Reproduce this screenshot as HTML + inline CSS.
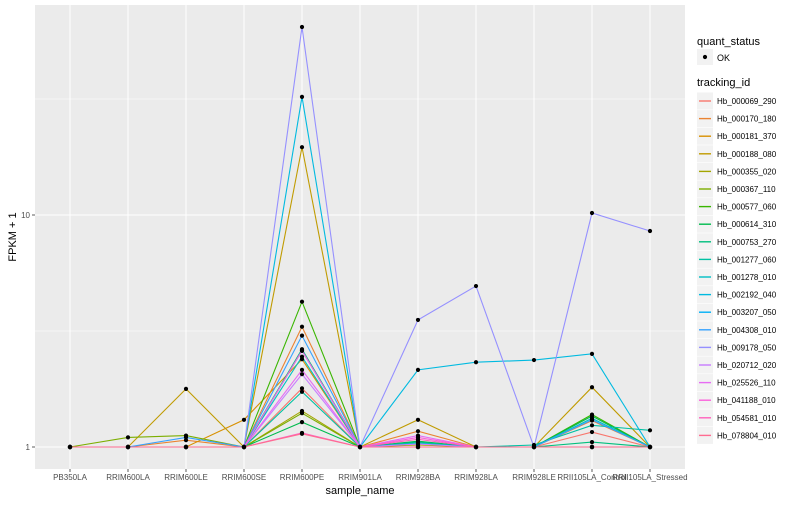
<!DOCTYPE html>
<html><head><meta charset="utf-8"><style>
body{margin:0;background:#fff;font-family:"Liberation Sans",sans-serif}
svg text{font-family:"Liberation Sans",sans-serif}
</style></head><body>
<svg id="c" width="800" height="500" xmlns="http://www.w3.org/2000/svg"></svg>
<script>
const categories=["PB350LA","RRIM600LA","RRIM600LE","RRIM600SE","RRIM600PE","RRIM901LA","RRIM928BA","RRIM928LA","RRIM928LE","RRII105LA_Control","RRII105LA_Stressed"];
const seriesNames=["Hb_000069_290","Hb_000170_180","Hb_000181_370","Hb_000188_080","Hb_000355_020","Hb_000367_110","Hb_000577_060","Hb_000614_310","Hb_000753_270","Hb_001277_060","Hb_001278_010","Hb_002192_040","Hb_003207_050","Hb_004308_010","Hb_009178_050","Hb_020712_020","Hb_025526_110","Hb_041188_010","Hb_054581_010","Hb_078804_010"];
const colors=["#F8766D","#EA8331","#D89000","#C09B00","#A3A500","#7CAE00","#39B600","#00BB4E","#00BF7D","#00C1A3","#00BFC4","#00BAE0","#00B0F6","#35A2FF","#9590FF","#C77CFF","#E76BF3","#FA62DB","#FF62BC","#FF6C91"];
const s01=[1,1,1,1,1.79,1,1,1,1,1.16,1];
const s02=[1,1,1.07,1,3.30,1,1.17,1,1,1.30,1];
const s03=[1,1,1,1.31,2.39,1,1,1,1,1,1];
const s04=[1,1,1.78,1,19.6,1,1.31,1,1,1.81,1];
const s05=[1,1,1,1,1.43,1,1.02,1,1,1,1];
const s06=[1,1.1,1.12,1,1.40,1,1,1,1,1,1];
const s07=[1,1,1,1,4.23,1,1,1,1,1.38,1];
const s08=[1,1,1,1,1.28,1,1.06,1,1,1.36,1];
const s09=[1,1,1,1,2.64,1,1.05,1,1,1.05,1];
const s10=[1,1,1,1,1.73,1,1,1,1.02,1.24,1.18];
const s11=[1,1,1,1,2.45,1,1.04,1,1,1.33,1];
const s12=[1,1,1,1,32.3,1,2.15,2.32,2.37,2.52,1];
const s13=[1,1,1,1,2.60,1,1,1,1,1,1];
const s14=[1,1,1.1,1,3.02,1,1,1,1,1.31,1];
const s15=[1,1,1,1,64.6,1,3.53,4.94,1,10.2,8.53];
const s16=[1,1,1,1,2.06,1,1.03,1,1,1,1];
const s17=[1,1,1,1,2.15,1,1.12,1,1,1,1];
const s18=[1,1,1,1,2.60,1,1.10,1,1,1,1];
const s19=[1,1,1,1,1.15,1,1.08,1,1,1,1];
const s20=[1,1,1,1,1.14,1,1,1,1,1,1];
const series=[s01,s02,s03,s04,s05,s06,s07,s08,s09,s10,s11,s12,s13,s14,s15,s16,s17,s18,s19,s20];
const yTicks=[1,10];
const yTickLabels=["1","10"];

const NS="http://www.w3.org/2000/svg";
const svg=document.getElementById('c');
const PL=35,PR=685,PT=5,PB=469;
const x=i=>70+i*58;
const y=v=>447-Math.log10(v)*232;
function el(t,a,p){const e=document.createElementNS(NS,t);for(const k in a)e.setAttribute(k,a[k]);(p||svg).appendChild(e);return e;}
const panel=el('rect',{x:PL,y:PT,width:PR-PL,height:PB-PT,fill:'#EBEBEB'});


[0.5,1.5].forEach(l=>{const g=el('line',{x1:PL,x2:PR,y1:447-l*232,y2:447-l*232,stroke:'#fff','stroke-width':0.5});

});
yTicks.forEach((t,i)=>{const yy=y(t);
const g=el('line',{x1:PL,x2:PR,y1:yy,y2:yy,stroke:'#fff','stroke-width':1});


el('line',{x1:PL-3,x2:PL,y1:yy,y2:yy,stroke:'#333','stroke-width':0.8});
const tx=el('text',{x:PL-5,y:yy+3,'text-anchor':'end','font-size':8,fill:'#4D4D4D'});tx.textContent=yTickLabels[i];

});
categories.forEach((c,i)=>{const xx=x(i);
const g=el('line',{x1:xx,x2:xx,y1:PT,y2:PB,stroke:'#fff','stroke-width':1});


el('line',{x1:xx,x2:xx,y1:PB,y2:PB+3,stroke:'#333','stroke-width':0.8});
const tx=el('text',{x:xx,y:480,'text-anchor':'middle','font-size':8,fill:'#4D4D4D'});tx.textContent=c;

});
series.forEach((s,k)=>{const p=el('polyline',{points:s.map((v,i)=>x(i)+','+y(v)).join(' '),fill:'none',stroke:colors[k],'stroke-width':1.1});

});
series.forEach((s,k)=>s.forEach((v,i)=>{const d=el('circle',{cx:x(i),cy:y(v),r:2.1,fill:'#000'});

}));
let t=el('text',{x:360,y:494,'text-anchor':'middle','font-size':11,fill:'#000'});t.textContent='sample_name';


t=el('text',{x:16,y:237,'text-anchor':'middle','font-size':11,fill:'#000',transform:'rotate(-90 16 237)'});t.textContent='FPKM + 1';


t=el('text',{x:697,y:45,'font-size':11,fill:'#000'});t.textContent='quant_status';


el('rect',{x:697,y:49,width:16,height:16,fill:'#F2F2F2'});
el('circle',{cx:705,cy:57,r:2.1,fill:'#000'});
t=el('text',{x:717,y:61,'font-size':9,fill:'#000'});t.textContent='OK';


t=el('text',{x:697,y:86,'font-size':11,fill:'#000'});t.textContent='tracking_id';


seriesNames.forEach((n,k)=>{const cy=101+k*17.6;
el('rect',{x:697,y:cy-8.5,width:16,height:17,fill:'#F2F2F2'});
el('line',{x1:699,x2:711,y1:cy,y2:cy,stroke:colors[k],'stroke-width':1.4});
const tx=el('text',{x:717,y:cy+3,'font-size':8,fill:'#000'});tx.textContent=n;

});
</script>
</body></html>
